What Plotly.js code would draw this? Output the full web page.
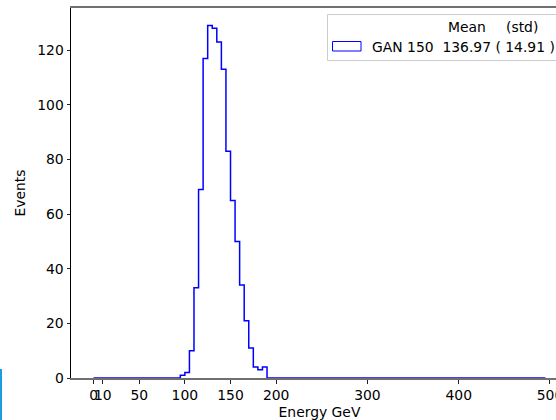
<!DOCTYPE html>
<html>
<head>
<meta charset="utf-8">
<script src="https://cdn.plot.ly/plotly-3.0.1.min.js"></script>
<style>
html, body { margin:0; padding:0; overflow:hidden; background:#fff; width:556px; height:420px; }
#chart { width:600px; height:420px; }
</style>
</head>
<body>
<div id="chart"></div>
<script>
// Histogram (step) data: bins of width 5 over [0, 495]; non-zero bins listed
const histStart = 0;
const histEnd = 495;
const binLeft = [95, 100, 105, 110, 115, 120, 125, 130, 135, 140, 145, 150, 155, 160, 165, 170, 175, 180, 185];
const binRight = [100, 105, 110, 115, 120, 125, 130, 135, 140, 145, 150, 155, 160, 165, 170, 175, 180, 185, 190];
const counts = [1, 2, 10, 33, 69, 117, 129, 128, 123, 113, 83, 65, 50, 34, 21, 11, 4, 3, 4];
const xTicks = [0, 10, 50, 100, 150, 200, 300, 400, 500];
const xTickText = ['0', '10', '50', '100', '150', '200', '300', '400', '500'];
const yTicks = [0, 20, 40, 60, 80, 100, 120];
const seriesName = 'GAN 150';
const meanVal = '136.97';
const stdVal = '14.91';

// build step outline
const sx = [histStart];
const sy = [0];
for (let i = 0; i < binLeft.length; i++) {
  sx.push(binLeft[i]); sy.push(counts[i]);
}
sx.push(binRight[binRight.length - 1]); sy.push(0);
sx.push(histEnd); sy.push(0);

const maxCount = Math.max(...counts);
const xSpan = histEnd - histStart;

const FONT = 'DejaVu Sans, sans-serif';
const FS = 13.9;

// plot area geometry in px for paper conversions
const W = 600, H = 420, ML = 71, MR = 32, MT = 8, MB = 42;
const PW = W - ML - MR, PH = H - MT - MB;
const px = v => (v - ML) / PW;
const py = v => (H - MB - v) / PH;

const trace = {
  type: 'scatter',
  mode: 'lines',
  x: sx,
  y: sy,
  name: seriesName,
  line: { color: '#0000ff', width: 1.5, shape: 'hv' },
  showlegend: false,
  hoverinfo: 'skip'
};

const layout = {
  width: W,
  height: H,
  margin: { l: ML, r: MR, t: MT, b: MB, pad: 0 },
  paper_bgcolor: '#ffffff',
  plot_bgcolor: '#ffffff',
  font: { family: FONT, size: FS, color: '#000000' },
  showlegend: false,
  xaxis: {
    range: [histStart - 0.05 * xSpan, histEnd + 0.05 * xSpan],
    tickmode: 'array',
    tickvals: xTicks,
    ticktext: xTickText,
    tickangle: 0,
    ticks: 'outside',
    ticklen: 3.5,
    tickwidth: 1,
    tickcolor: '#222222',
    showgrid: false,
    zeroline: false,
    showline: true,
    linecolor: '#707070',
    linewidth: 2,
    mirror: true,
    layer: 'below traces',
    tickfont: { family: FONT, size: FS, color: '#000000' },
    title: { text: 'Energy GeV', font: { family: FONT, size: FS, color: '#000000' }, standoff: 6 },
    automargin: false
  },
  yaxis: {
    range: [0, maxCount * 1.05],
    tickmode: 'array',
    tickvals: yTicks,
    ticks: 'outside',
    ticklen: 3.5,
    tickwidth: 1,
    tickcolor: '#222222',
    showgrid: false,
    zeroline: false,
    showline: true,
    linecolor: '#000000',
    linewidth: 1,
    mirror: false,
    tickfont: { family: FONT, size: FS, color: '#000000' },
    title: { text: 'Events', font: { family: FONT, size: FS, color: '#000000' }, standoff: 8 },
    automargin: false
  },
  shapes: [
    // legend frame
    { type: 'rect', xref: 'paper', yref: 'paper', x0: px(327.5), x1: px(561), y0: py(60.5), y1: py(14.5),
      line: { color: '#cccccc', width: 1 }, fillcolor: 'rgba(255,255,255,0.8)', layer: 'above' },
    // legend patch
    { type: 'rect', xref: 'paper', yref: 'paper', x0: px(332.5), x1: px(361), y0: py(51), y1: py(41.5),
      line: { color: '#0000ff', width: 1 }, fillcolor: 'rgba(0,0,0,0)', layer: 'above' },
    // stray blue strip at bottom-left edge
    { type: 'rect', xref: 'paper', yref: 'paper', x0: px(0), x1: px(2), y0: py(420), y1: py(369),
      line: { width: 0 }, fillcolor: '#1c9de2', layer: 'above' }
  ],
  annotations: [
    { xref: 'paper', yref: 'paper', x: px(446), y: py(27), xanchor: 'left', yanchor: 'middle',
      text: 'Mean', showarrow: false, font: { family: FONT, size: FS, color: '#000000' } },
    { xref: 'paper', yref: 'paper', x: px(504), y: py(27), xanchor: 'left', yanchor: 'middle',
      text: '(std)', showarrow: false, font: { family: FONT, size: FS, color: '#000000' } },
    { xref: 'paper', yref: 'paper', x: px(370), y: py(47), xanchor: 'left', yanchor: 'middle',
      text: seriesName + '\u00a0\u00a0' + meanVal + ' ( ' + stdVal + ' )', showarrow: false,
      font: { family: FONT, size: FS, color: '#000000' } }
  ]
};

Plotly.newPlot('chart', [trace], layout, { displayModeBar: false, staticPlot: true });
</script>
</body>
</html>
